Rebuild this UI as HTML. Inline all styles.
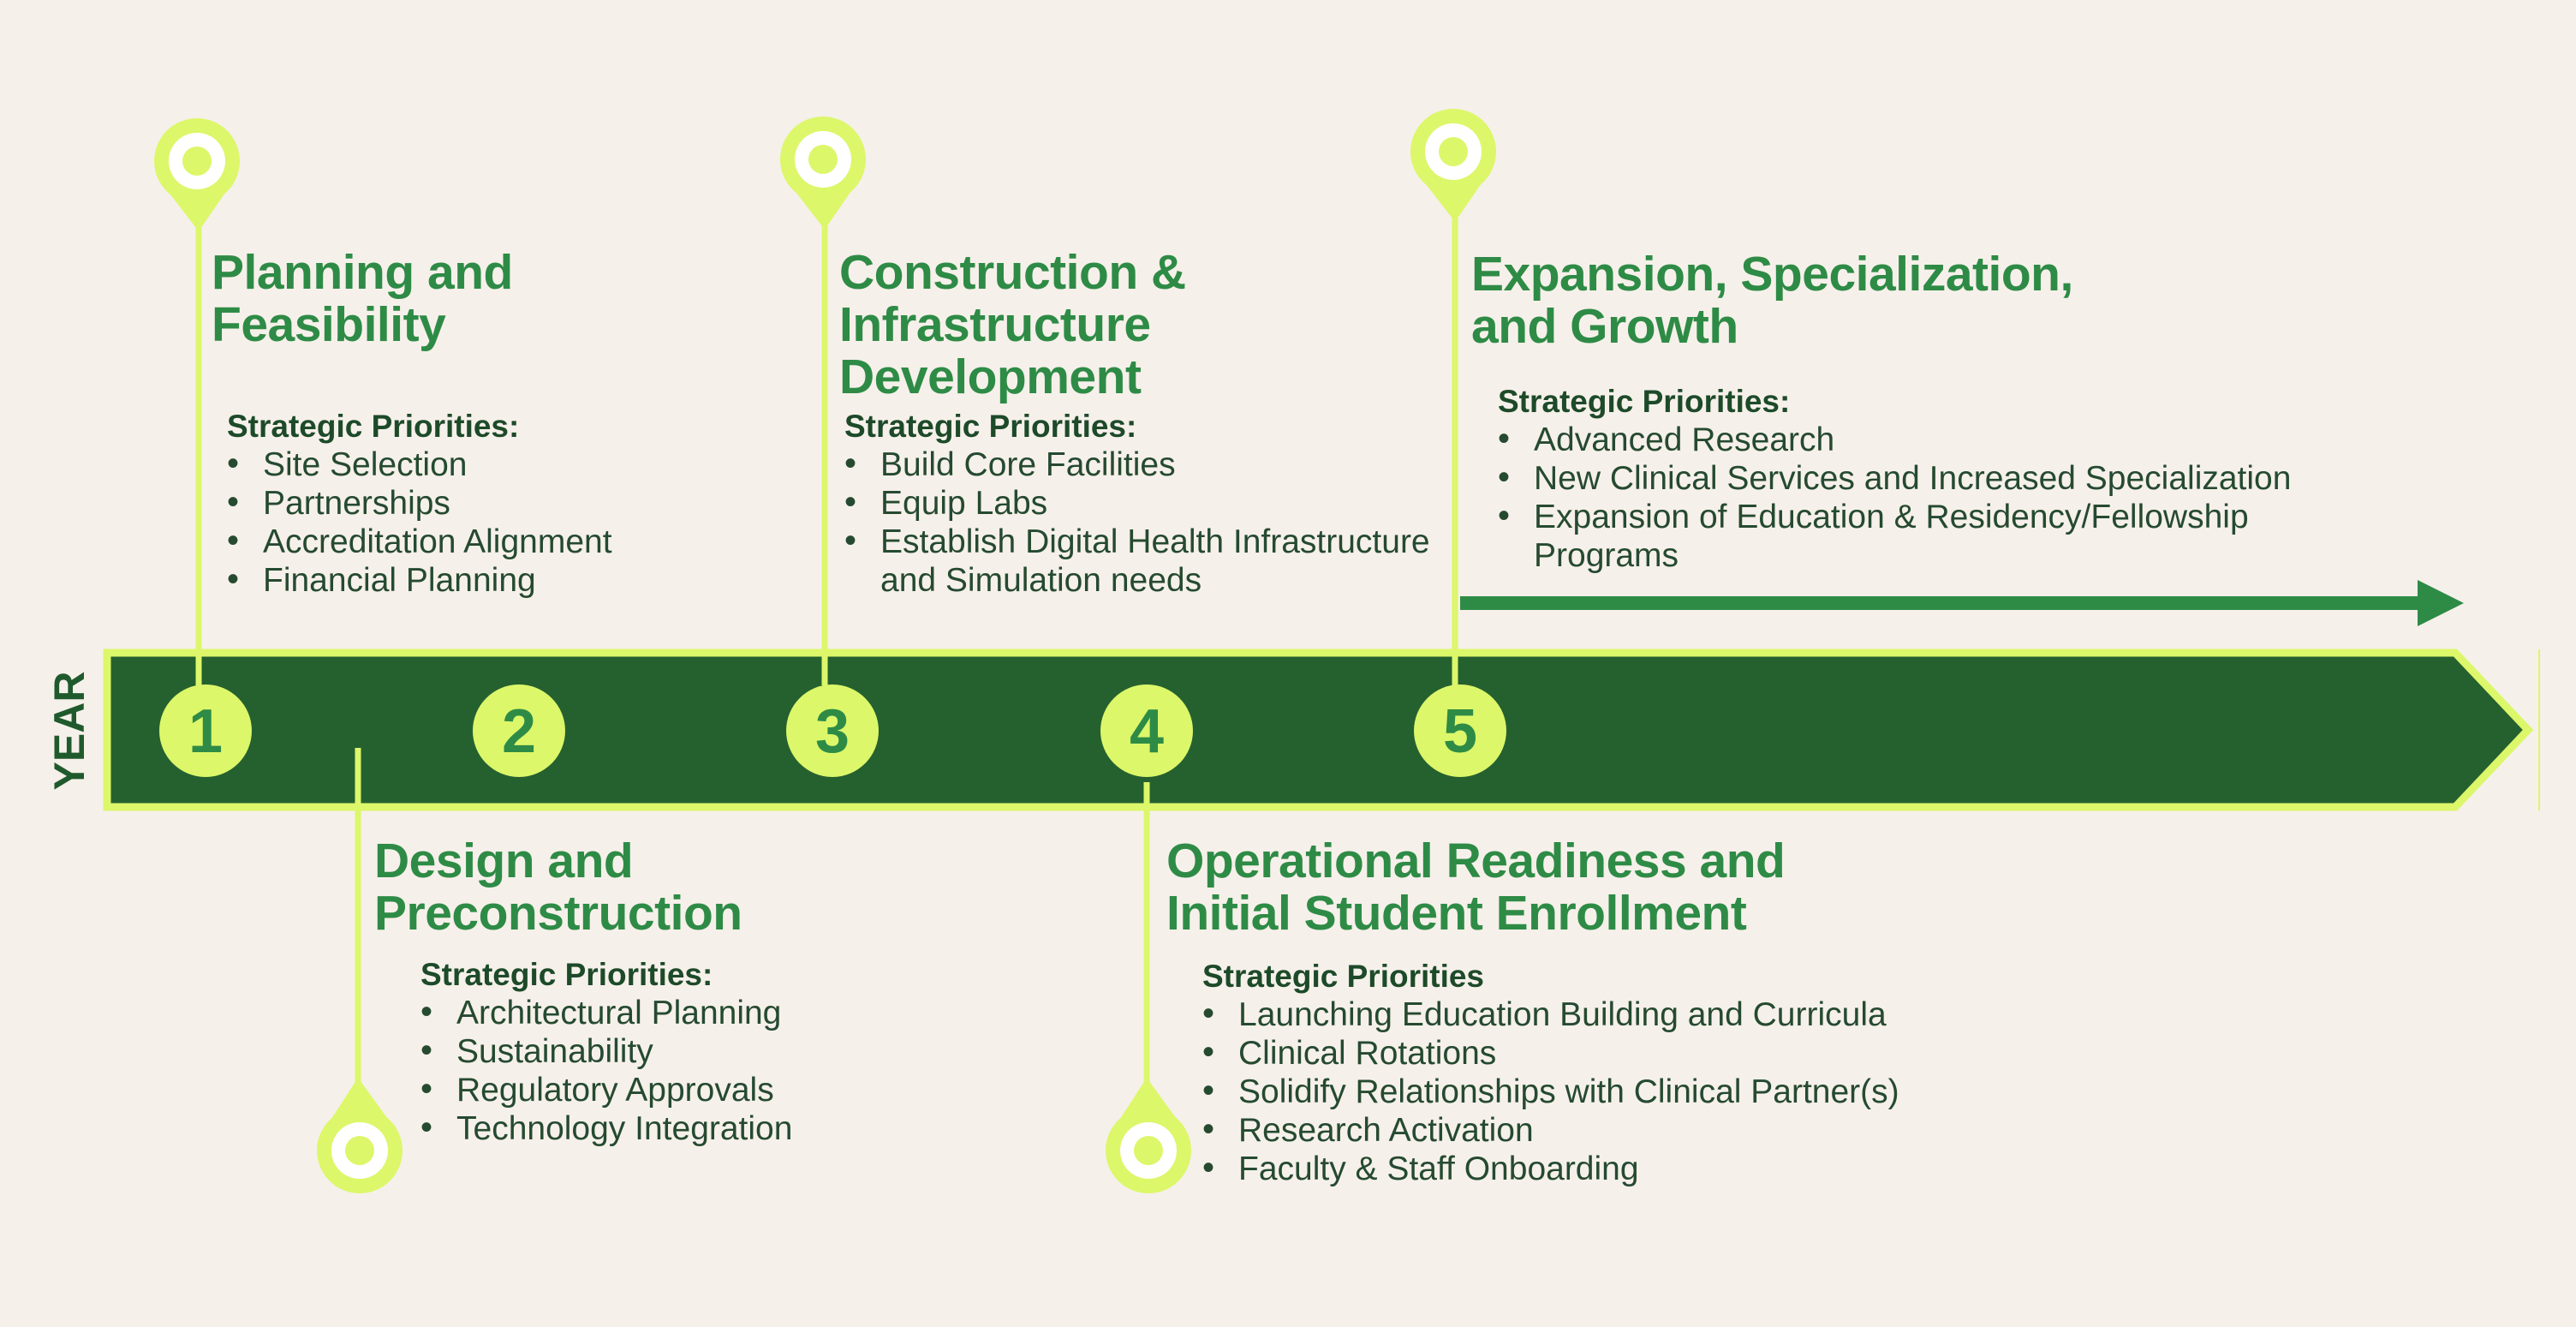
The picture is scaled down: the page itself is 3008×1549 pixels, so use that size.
<!DOCTYPE html>
<html><head><meta charset="utf-8"><style>
body{margin:0;width:3008px;height:1549px;background:#f6f0ea;position:relative;overflow:hidden;font-family:"Liberation Sans",sans-serif}
.h{position:absolute;font-weight:bold;color:#2e8b46;font-size:57px;line-height:61px;white-space:nowrap;letter-spacing:-0.5px}
.sp{position:absolute;white-space:nowrap}
.sp b{display:block;font-size:37px;line-height:45px;color:#1d4a29}
.sp div{font-size:39px;line-height:45px;color:#254a30;padding-left:42px;position:relative}
.sp div.b:before{content:"•";position:absolute;left:0px;top:-1px;font-size:40px}
svg{position:absolute;left:0;top:0}
</style></head><body>
<svg width="3008" height="1549">
<polygon points="125,762 2867,762 2952,852 2867,942 125,942" fill="#25612f" stroke="#dcf76a" stroke-width="9"/>
<line x1="2965" y1="758" x2="2965" y2="946" stroke="#dcf76a" stroke-width="2"/>
<g stroke="#dcf76a" stroke-width="7">
<line x1="232" y1="260" x2="232" y2="800"/>
<line x1="963" y1="260" x2="963" y2="800"/>
<line x1="1699" y1="250" x2="1699" y2="800"/>
<line x1="418" y1="873" x2="418" y2="1270"/>
<line x1="1339" y1="913" x2="1339" y2="1270"/>
</g>
<g fill="#dcf76a">
<circle cx="240" cy="853" r="54"/><circle cx="606" cy="853" r="54"/><circle cx="972" cy="853" r="54"/><circle cx="1339" cy="853" r="54"/><circle cx="1705" cy="853" r="54"/>
</g>
<g font-family="Liberation Sans" font-weight="bold" font-size="72" fill="#2e8b46" text-anchor="middle">
<text x="240" y="878">1</text><text x="606" y="878">2</text><text x="972" y="878">3</text><text x="1339" y="878">4</text><text x="1705" y="878">5</text>
</g>
<text x="0" y="0" transform="translate(98,853) rotate(-90)" font-family="Liberation Sans" font-weight="bold" font-size="50" fill="#1f5a2c" text-anchor="middle">YEAR</text>
<g fill="#dcf76a">
<circle cx="230" cy="188" r="50"/><polygon points="195,222 265,222 232,270"/>
<circle cx="961" cy="186" r="50"/><polygon points="926,220 996,220 963,268"/>
<circle cx="1697" cy="177" r="50"/><polygon points="1662,211 1732,211 1699,259"/>
<circle cx="420" cy="1343" r="50"/><polygon points="385,1309 455,1309 418,1258"/>
<circle cx="1341" cy="1343" r="50"/><polygon points="1306,1309 1376,1309 1339,1258"/>
</g>
<g fill="#fff"><circle cx="230" cy="188" r="33"/><circle cx="961" cy="186" r="33"/><circle cx="1697" cy="177" r="33"/><circle cx="420" cy="1343" r="33"/><circle cx="1341" cy="1343" r="33"/></g>
<g fill="#dcf76a"><circle cx="230" cy="188" r="17"/><circle cx="961" cy="186" r="17"/><circle cx="1697" cy="177" r="17"/><circle cx="420" cy="1343" r="17"/><circle cx="1341" cy="1343" r="17"/></g>
<rect x="1705" y="696" width="1122" height="16" fill="#2e8b46"/>
<polygon points="2823,677 2877,704 2823,731" fill="#2e8b46"/>
</svg>

<div class="h" style="left:247px;top:288px">Planning and<br>Feasibility</div>
<div class="sp" style="left:265px;top:475px"><b>Strategic Priorities:</b><div class="b">Site Selection</div><div class="b">Partnerships</div><div class="b">Accreditation Alignment</div><div class="b">Financial Planning</div></div>

<div class="h" style="left:980px;top:288px">Construction &amp;<br>Infrastructure<br>Development</div>
<div class="sp" style="left:986px;top:475px"><b>Strategic Priorities:</b><div class="b">Build Core Facilities</div><div class="b">Equip Labs</div><div class="b">Establish Digital Health Infrastructure</div><div>and Simulation needs</div></div>

<div class="h" style="left:1718px;top:290px">Expansion, Specialization,<br>and Growth</div>
<div class="sp" style="left:1749px;top:446px"><b>Strategic Priorities:</b><div class="b">Advanced Research</div><div class="b">New Clinical Services and Increased Specialization</div><div class="b">Expansion of Education &amp; Residency/Fellowship</div><div>Programs</div></div>

<div class="h" style="left:437px;top:975px">Design and<br>Preconstruction</div>
<div class="sp" style="left:491px;top:1115px"><b>Strategic Priorities:</b><div class="b">Architectural Planning</div><div class="b">Sustainability</div><div class="b">Regulatory Approvals</div><div class="b">Technology Integration</div></div>

<div class="h" style="left:1362px;top:975px">Operational Readiness and<br>Initial Student Enrollment</div>
<div class="sp" style="left:1404px;top:1117px"><b>Strategic Priorities</b><div class="b">Launching Education Building and Curricula</div><div class="b">Clinical Rotations</div><div class="b">Solidify Relationships with Clinical Partner(s)</div><div class="b">Research Activation</div><div class="b">Faculty &amp; Staff Onboarding</div></div>
</body></html>
